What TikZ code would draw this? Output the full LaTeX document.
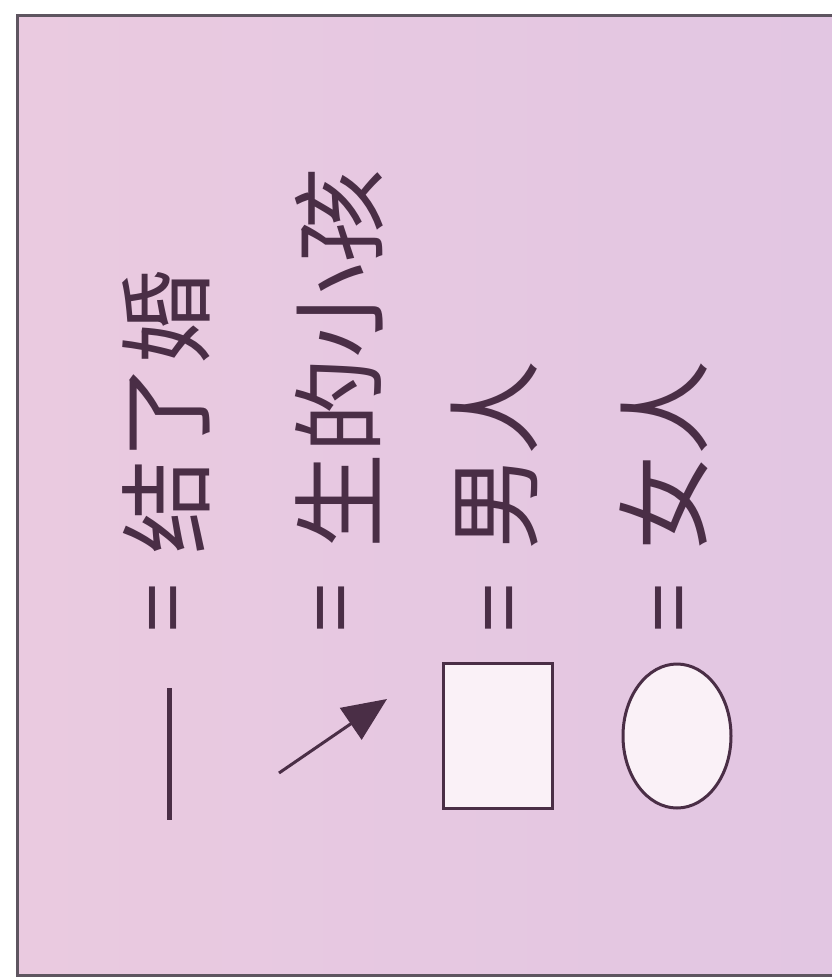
\documentclass[tikz,border=0pt]{standalone}
\usepackage{fontspec}
\newfontfamily\cjk{Noto Sans CJK SC}
\usetikzlibrary{arrows.meta,shapes.geometric}
\definecolor{bgpink}{HTML}{EACAE0}
\definecolor{bglav}{HTML}{E2C6E2}
\definecolor{ink}{HTML}{4A2E46}
\definecolor{frame}{HTML}{5E5560}
\definecolor{symfill}{HTML}{FAF1F7}
\tikzset{
  lbl/.style={rotate=90, anchor=west, inner sep=0pt, text=ink, font=\cjk\fontsize{95}{95}\selectfont},
  eqs/.style={rotate=90, anchor=center, inner sep=0pt, text=ink, font=\cjk\fontsize{88}{88}\selectfont},
  sym/.style={draw=ink, line width=3pt, fill=symfill, inner sep=0pt},
}
\begin{document}
\begin{tikzpicture}[x=1pt,y=-1pt]
\useasboundingbox (0,0) rectangle (832,980);
\fill[white] (0,0) rectangle (832,980);
\shade[left color=bgpink, right color=bglav] (17,15) rectangle (832,975);
\draw[frame, line width=3pt] (840,15) -- (17,15) -- (17,975) -- (840,975);
% labels
\node[lbl] (t1) at (166,555) {结了婚};
\node[lbl] (t2) at (339,549) {生的小孩};
\node[lbl] (t3) at (495,551) {男人};
\node[lbl] (t4) at (664,551) {女人};
% equals
\node[eqs] (e1) at (172,608) {=};
\node[eqs] (e2) at (340,608) {=};
\node[eqs] (e3) at (508,608) {=};
\node[eqs] (e4) at (678,608) {=};
% symbols
\coordinate (m1) at (169,688);
\coordinate (m2) at (169,820);
\draw[ink, line width=5pt] (m1) -- (m2);
\coordinate (a1) at (279,773);
\coordinate (a2) at (387,699);
\draw[ink, line width=3pt, -{Triangle[length=44pt,width=38pt]}] (a1) -- (a2);
\node[sym, rectangle, minimum width=109pt, minimum height=145pt] (sq) at (498,736) {};
\node[sym, ellipse, minimum width=108pt, minimum height=144pt] (el) at (677,736) {};
\end{tikzpicture}
\end{document}
